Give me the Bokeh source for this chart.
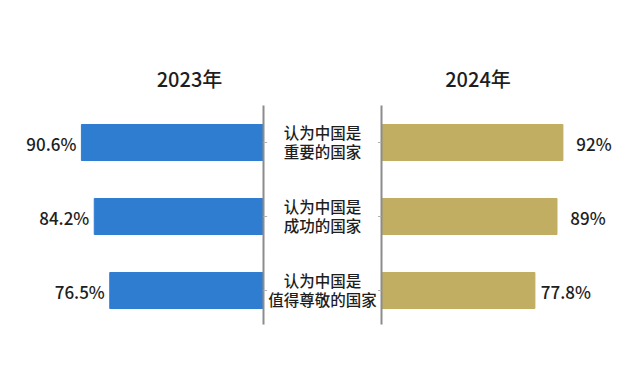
from bokeh.plotting import figure
from bokeh.models import Range1d, Label, ColumnDataSource
from bokeh.core.properties import value
from bokeh.embed import file_html
from bokeh.resources import INLINE

categories = ["认为中国是\n重要的国家", "认为中国是\n成功的国家", "认为中国是\n值得尊敬的国家"]
values_2023 = [90.6, 84.2, 76.5]
values_2024 = [92, 89, 77.8]
labels_2023 = ["90.6%", "84.2%", "76.5%"]
labels_2024 = ["92%", "89%", "77.8%"]
year_titles = ["2023年", "2024年"]

FONT = "Noto Sans CJK SC Medium"
BLUE = "#2F7DD1"
GOLD = "#C1AE63"
AXIS = "#8C8C8C"
TXT = "#1E1E1E"

FW, FH = 625, 364
OX, OY = 8, 8
idx = list(range(len(categories)))

p = figure(width=FW + OX, height=FH + OY, output_backend="svg", toolbar_location=None,
           x_range=Range1d(-1, 1), y_range=Range1d(3.1081, -1.8108),
           min_border=0, min_border_left=OX, min_border_right=0,
           min_border_top=OY, min_border_bottom=0)
p.axis.visible = False
p.grid.visible = False
p.outline_line_color = None
p.background_fill_color = "white"
p.border_fill_color = "white"

# left (2023) scale reversed, right (2024) scale normal
p.extra_x_ranges = {
    "l": Range1d(start=255 / 2.01, end=-370 / 2.01),
    "r": Range1d(start=-373 / 1.972, end=252 / 1.972),
}

src = ColumnDataSource(dict(y=idx, cat=categories, v23=values_2023, v24=values_2024,
                            l23=labels_2023, l24=labels_2024,
                            zero=[0] * len(idx)))

bh = 0.4865
p.hbar(y="y", left=0, right="v23", height=bh, source=src, x_range_name="l",
       fill_color=BLUE, line_color=BLUE)
p.hbar(y="y", left=0, right="v24", height=bh, source=src, x_range_name="r",
       fill_color=GOLD, line_color=GOLD)

# axis lines
p.segment(x0=0, y0=-0.5, x1=0, y1=2.46, x_range_name="l", line_color=AXIS, line_width=2)
p.segment(x0=0, y0=-0.5, x1=0, y1=2.46, x_range_name="r", line_color=AXIS, line_width=2)
# ticks
p.segment(x0="zero", y0="y", x1=-1.8, y1="y", source=src, x_range_name="l",
          line_color="#B0B0B0", line_width=1)
p.segment(x0="zero", y0="y", x1=-1.8, y1="y", source=src, x_range_name="r",
          line_color="#B0B0B0", line_width=1)

# value labels
p.text(x="v23", y="y", text="l23", source=src, x_range_name="l",
       text_align="center", text_baseline="middle", x_offset=-30, y_offset=1,
       text_font=value(FONT), text_font_size="17px", text_color=TXT)
p.text(x="v24", y="y", text="l24", source=src, x_range_name="r",
       text_align="center", text_baseline="middle", x_offset=31, y_offset=1,
       text_font=value(FONT), text_font_size="17px", text_color=TXT)

# category labels in the middle
p.text(x=0, y="y", text="cat", source=src,
       text_align="center", text_baseline="middle", x_offset=1.5, y_offset=-1,
       text_font=value(FONT), text_font_size="15.5px", text_color=TXT,
       text_line_height=0.88)

# year titles
for tx, t in zip([181, 469.5], year_titles):
    p.add_layout(Label(x=tx, y=FH + OY - 78, x_units="screen", y_units="screen",
                       text=t, text_align="center", text_baseline="middle",
                       text_font=FONT, text_font_size="20px", text_color=TXT))

open("out.html", "w").write(file_html(p, INLINE))
